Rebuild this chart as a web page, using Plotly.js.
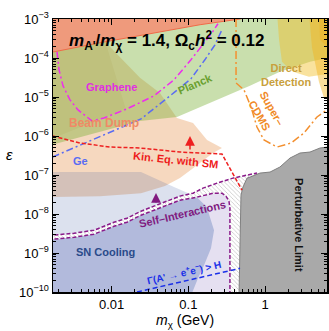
<!DOCTYPE html>
<html><head><meta charset="utf-8">
<script src="https://cdn.plot.ly/plotly-3.0.1.min.js"></script>
<style>html,body{margin:0;padding:0;background:#fff;}#chart{width:329px;height:331px;}</style>
</head><body><div id="chart"></div>
<script>
// ---- axis ticks ----
const xTicks = [0.01, 0.1, 1];
const xTickText = ['0.01', '0.1', '1'];
const yTicks = [1e-10, 1e-9, 1e-8, 1e-7, 1e-6, 1e-5, 1e-4, 1e-3];
const yTickText = ['10<sup>−10</sup>','10<sup>−9</sup>','10<sup>−8</sup>','10<sup>−7</sup>','10<sup>−6</sup>','10<sup>−5</sup>','10<sup>−4</sup>','10<sup>−3</sup>'];

// ---- regions (m_X in GeV, epsilon) ----
const redBoundM = [0.0015, 0.00177, 0.00703, 0.0481, 0.142, 0.471, 0.9];
const redBoundE = [1.5e-4, 1.44e-4, 2.46e-4, 5.0e-4, 7.13e-4, 1.0e-3, 1.4e-3];
const planckM = [0.0015, 0.00703, 0.0234, 0.0710, 0.191, 0.635, 1.56, 3.85, 8];
const planckE = [5.6e-7, 1.27e-6, 2.43e-6, 3.08e-6, 7.05e-6, 1.93e-5, 4.42e-5, 7.98e-5, 1.1e-4];
const beamM = [0.0015, 0.008, 0.00869, 0.0149, 0.0234, 0.0426, 0.0630, 0.0710, 0.115, 0.175, 0.274, 0.209, 0.115, 0.0776, 0.0495, 0.0241, 0.00703, 0.0015];
const beamE = [2e-3, 2e-3, 2.32e-4, 7.98e-5, 3.10e-5, 1.27e-5, 3.90e-6, 2.90e-6, 2.16e-6, 7.89e-7, 4.92e-7, 3.66e-7, 1.50e-7, 8.32e-8, 5.19e-8, 3.42e-8, 2.87e-8, 2.70e-8];
const beam2M = [0.0015, 0.0082, 0.00843, 0.0153, 0.0015];
const beam2E = [2e-3, 2e-3, 2.32e-4, 4.95e-6, 7.9e-7];
const snM = [0.0015, 0.0241, 0.0649, 0.115, 0.175, 0.191, 0.216, 0.197, 0.160, 0.133, 0.108, 0.0015];
const snE = [1.19e-7, 1.19e-7, 4.89e-8, 3.04e-8, 1.50e-8, 8.27e-9, 3.83e-9, 1.32e-9, 4.83e-10, 2.23e-10, 8e-11, 8e-11];
const snCoreM = [0.175, 0.191, 0.216, 0.197, 0.160, 0.133, 0.108, 0.0015];
const snCoreE = [1.50e-8, 8.27e-9, 3.83e-9, 1.32e-9, 4.83e-10, 2.23e-10, 8e-11, 8e-11];
const siUpM = [0.0015, 0.00322, 0.00587, 0.0107, 0.0158, 0.0241, 0.0356, 0.0526, 0.0776, 0.115, 0.155, 0.236, 0.381, 0.581, 0.783];
const siUpE = [2.8e-9, 3.21e-9, 3.83e-9, 6.15e-9, 7.80e-9, 1.18e-8, 1.59e-8, 2.13e-8, 2.87e-8, 3.42e-8, 4.60e-8, 6.19e-8, 8.32e-8, 9.93e-8, 1.12e-7];
const siLoM = [0.0015, 0.00322, 0.00587, 0.0107, 0.0158, 0.0241, 0.0356, 0.0526, 0.0776, 0.129, 0.209, 0.274, 0.309, 0.338, 0.348, 0.348];
const siLoE = [2.2e-9, 2.53e-9, 3.03e-9, 4.86e-9, 6.15e-9, 9.31e-9, 1.25e-8, 1.68e-8, 2.26e-8, 2.70e-8, 3.42e-8, 3.42e-8, 2.87e-8, 2.13e-8, 1.41e-8, 8e-11];
const pertM = [0.457, 0.471, 0.485, 0.515, 0.581, 0.635, 0.857, 1.16, 1.56, 2.11, 2.85, 3.85, 5.20, 8, 8];
const pertE = [8e-11, 6.93e-9, 3.04e-8, 4.89e-8, 8.32e-8, 8.83e-8, 1.12e-7, 1.19e-7, 1.60e-7, 2.72e-7, 3.66e-7, 3.88e-7, 4.92e-7, 5.5e-7, 8e-11];
const dd1M = [1.43, 1.52, 1.66, 2.11, 2.53, 3.73, 5.52, 8, 8];
const dd1E = [1.5e-3, 2.94e-4, 7.98e-5, 4.98e-5, 4.17e-5, 3.29e-5, 3.70e-5, 3.9e-5, 1.5e-3];
const dd2M = [3.73, 4.09, 5.04, 5.86, 8, 8];
const dd2E = [1.5e-3, 1.83e-4, 2.44e-5, 9.48e-6, 8e-6, 1.5e-3];
const dd3M = [5.04, 5.2, 8, 8];
const dd3E = [1.5e-3, 2.94e-4, 1.2e-4, 1.5e-3];
const keM = [0.0017, 0.00386, 0.0095, 0.0234, 0.0776, 0.274, 0.500];
const keE = [1.0e-6, 6.61e-7, 5.21e-7, 4.92e-7, 3.88e-7, 3.45e-7, 4.09e-8];
const grM = [0.00194, 0.00206, 0.00232, 0.00286, 0.00364, 0.00553, 0.00794, 0.0158, 0.0356, 0.0649, 0.108, 0.155, 0.203, 0.243];
const grE = [1.44e-4, 4.98e-5, 1.93e-5, 8.42e-6, 4.66e-6, 2.43e-6, 2.90e-6, 4.95e-6, 1.07e-5, 2.75e-5, 8.99e-5, 2.18e-4, 4.44e-4, 7.57e-4];
const geM = [0.0017, 0.00553, 0.0128, 0.0241, 0.0495, 0.108, 0.164, 0.222, 0.274];
const geE = [2.9e-7, 7.89e-7, 1.61e-6, 2.74e-6, 8.42e-6, 2.92e-5, 8.99e-5, 2.18e-4, 5.31e-4];
const gamM = [0.0214, 0.471];
const gamE = [1.0e-10, 4.04e-10];
const cdmsM = [0.418, 0.418, 0.531, 0.655, 0.783, 0.968, 1.43, 2.18, 3.21, 4.75, 6.41];
const cdmsE = [1.0e-3, 2.30e-5, 1.52e-5, 5.57e-6, 1.70e-6, 7.89e-7, 5.21e-7, 6.61e-7, 1.19e-6, 3.08e-6, 4.66e-6];

// ---- build ----
const XL = 0.0015, XR = 8, YT = 2e-3, YB = 8e-11;
function area(x, y, fill, extra) {
  return Object.assign({type:'scatter', mode:'lines', x:x, y:y, fill:'toself', fillcolor:fill,
    line:{width:0, color:fill}, hoverinfo:'skip', showlegend:false}, extra || {});
}
function curve(x, y, color, dash, w) {
  return {type:'scatter', mode:'lines', x:x, y:y, line:{color:color, dash:dash, width:w || 1.5},
    hoverinfo:'skip', showlegend:false};
}
const redPolyM = redBoundM.concat([0.9, XL]);
const redPolyE = redBoundE.concat([YT, YT]);
const planckPolyM = planckM.concat([XR, XL]);
const planckPolyE = planckE.concat([YT, YT]);
const lavM = siLoM.concat([XL]);
const lavE = siLoE.concat([YB]);
const coreM = siLoM.slice(0, 10).concat(snCoreM);
const coreE = siLoE.slice(0, 10).concat(snCoreE);
const hatchM = siUpM.concat([0.9, 0.9]).concat(siLoM.slice().reverse());
const hatchE = siUpE.concat([1.12e-7, YB]).concat(siLoE.slice().reverse());

const traces = [
  area(beamM, beamE, 'rgba(236,168,112,0.45)'),
  area(beam2M, beam2E, 'rgba(190,130,70,0.12)'),
  area(snM, snE, 'rgba(60,90,160,0.18)'),
  area(lavM, lavE, '#e5e0f1'),
  area(coreM, coreE, '#b2badc'),
  area(hatchM, hatchE, '#ffffff', {fillpattern:{shape:'\\', fgcolor:'#c4c4c4', bgcolor:'#ffffff', size:3, solidity:0.25}}),
  area(planckPolyM, planckPolyE, 'rgba(120,175,50,0.40)'),
  area(redPolyM, redPolyE, '#ef9a7c'),
  area(dd1M, dd1E, 'rgba(242,190,40,0.45)'),
  area(dd2M, dd2E, 'rgba(242,180,30,0.45)'),
  area(dd3M, dd3E, 'rgba(240,170,20,0.35)'),
  area(pertM, pertE, '#a9a9a9', {line:{width:1, color:'#808080'}}),
  curve(redBoundM, redBoundE, '#f06a48', 'solid', 1),
  curve(grM, grE, '#ee2cee', '7px,3px,2px,3px'),
  curve(geM, geE, '#5a6cf2', '7px,3px,2px,3px'),
  curve(cdmsM, cdmsE, '#f39030', '8px,3px,2px,3px'),
  curve(keM, keE, '#ee2020', '4px,2px'),
  curve(siUpM, siUpE, '#8a1a8a', '4px,2px'),
  curve(siLoM, siLoE, '#8a1a8a', '4px,2px'),
  curve(gamM, gamE, '#1a30e8', '5px,3px'),
];

const minorX = [], minorY = [];
[-3, -2, -1, 0].forEach(d => { for (let k = 2; k <= 9; k++) minorX.push(k * Math.pow(10, d)); });
for (let d = -10; d <= -4; d++) { for (let k = 2; k <= 9; k++) minorY.push(k * Math.pow(10, d)); }

const FONT = 'Liberation Sans, Arial, sans-serif';
function lab(x, y, text, color, size, angle) {
  return {xref:'paper', yref:'paper', x:x, y:y, text:text, showarrow:false,
    font:{family:FONT, size:size, color:color}, textangle:angle || 0, xanchor:'center', yanchor:'middle'};
}
const annotations = [
  lab(0.415, 0.923, '<b><i>m</i><sub>A\'</sub>/<i>m</i><sub>χ</sub> = 1.4, Ω<sub>c</sub><i>h</i><sup>2</sup> = 0.12</b>', '#000', 17),
  lab(0.215, 0.751, '<b>Graphene</b>', '#e030e0', 11),
  lab(0.186, 0.619, '<b>Beam Dump</b>', '#f08a66', 12),
  lab(0.518, 0.762, '<b>Planck</b>', '#6aa030', 11, -23),
  lab(0.850, 0.795, '<b>Direct<br>Detection</b>', '#c8a03c', 11),
  lab(0.777, 0.659, '<b>Super–<br>CDMS</b>', '#f08a28', 11, 60),
  lab(0.099, 0.480, '<b>Ge</b>', '#5a6cf2', 11),
  lab(0.449, 0.484, '<b>Kin. Eq. with SM</b>', '#ee1c1c', 11, 6),
  lab(0.471, 0.286, '<b>Self–Interactions</b>', '#801a80', 11, -13),
  lab(0.190, 0.147, '<b>SN Cooling</b>', '#2a4a8a', 11),
  lab(0.478, 0.073, '<b>Γ(A\' → e<sup>+</sup>e<sup>−</sup>) > H</b>', '#1a30e8', 10, -13),
  lab(0.898, 0.245, '<b>Perturbative Limit</b>', '#111', 11, 90),
  lab(-0.157, 0.502, '<i>ε</i>', '#000', 15),
  lab(0.482, -0.106, '<i>m</i><sub>χ</sub> (GeV)', '#000', 14),
  {xref:'paper', yref:'paper', x:0.5, y:0.571, ax:0, ay:15, showarrow:true, arrowhead:2, arrowsize:1.3, arrowwidth:1.5, arrowcolor:'#ee2020', text:''},
  {xref:'paper', yref:'paper', x:0.376, y:0.363, ax:0, ay:11, showarrow:true, arrowhead:2, arrowsize:1.3, arrowwidth:1.5, arrowcolor:'#801a80', text:''}
];

const axisCommon = {
  type:'log', showgrid:false, zeroline:false, showline:true, linecolor:'#000', linewidth:1.5,
  mirror:'ticks', ticks:'inside', ticklen:6, tickwidth:1, tickcolor:'#000',
  tickfont:{family:FONT, size:13, color:'#000'}, tickmode:'array'
};
const layout = {
  width:329, height:331, margin:{l:53, r:2, t:19, b:39},
  paper_bgcolor:'#fff', plot_bgcolor:'#fff', showlegend:false,
  xaxis: Object.assign({}, axisCommon, {range:[-2.765, 0.807], tickvals:xTicks, ticktext:xTickText,
    minor:{tickmode:'array', tickvals:minorX, ticks:'inside', ticklen:3, tickwidth:1, tickcolor:'#000', showgrid:false}}),
  yaxis: Object.assign({}, axisCommon, {range:[-10, -3], tickvals:yTicks, ticktext:yTickText,
    minor:{tickmode:'array', tickvals:minorY, ticks:'inside', ticklen:3, tickwidth:1, tickcolor:'#000', showgrid:false}}),
  annotations: annotations
};
Plotly.newPlot('chart', traces, layout, {staticPlot:true, displayModeBar:false});
</script></body></html>
